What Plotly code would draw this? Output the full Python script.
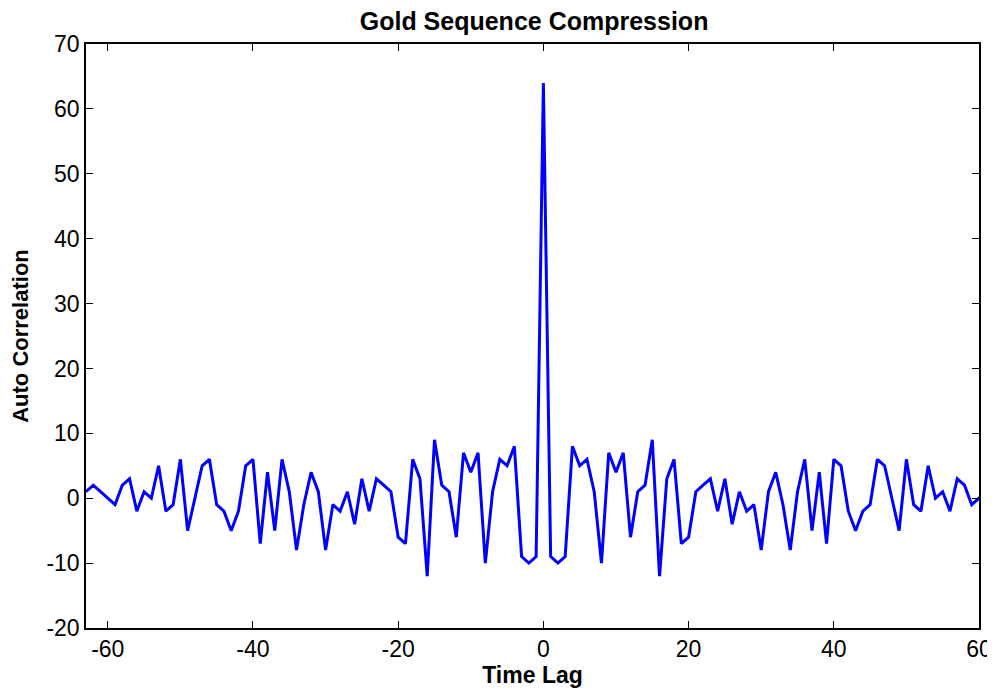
import plotly.graph_objects as go

# Time lags shown
lags = list(range(-63, 64))

# Autocorrelation values, lag -63 ... 63
auto_corr = [
    1, 2, 1, 0, -1, 2, 3, -2, 1, 0, 5, -2, -1, 6, -5, 0,
    5, 6, -1, -2, -5, -2, 5, 6, -7, 4, -5, 6, 1, -8, -1, 4,
    1, -8, -1, -2, 1, -4, 3, -2, 3, 2, 1, -6, -7, 6, 3, -12,
    9, 2, 1, -6, 7, 4, 7, -10, 1, 6, 5, 8, -9, -10, -9,
    64,
    -9, -10, -9, 8, 5, 6, 1, -10, 7, 4, 7, -6, 1, 2, 9, -12,
    3, 6, -7, -6, 1, 2, 3, -2, 3, -4, 1, -2, -1, -8, 1, 4,
    -1, -8, 1, 6, -5, 4, -7, 6, 5, -2, -5, -2, -1, 6, 5, 0,
    -5, 6, -1, -2, 5, 0, 1, -2, 3, 2, -1, 0, 1, 2, 1,
]

x_ticks = [-60, -40, -20, 0, 20, 40, 60]
y_ticks = [-20, -10, 0, 10, 20, 30, 40, 50, 60, 70]

fig = go.Figure()
fig.add_trace(go.Scatter(
    x=lags, y=auto_corr, mode="lines",
    line=dict(color="#0000FF", width=3),
    showlegend=False, hoverinfo="skip",
))

font_family = "Liberation Sans, Arial, sans-serif"
axis_common = dict(
    showgrid=False, zeroline=False, automargin=False,
    showline=True, linecolor="black", linewidth=1.5, mirror="ticks",
    ticks="inside", ticklen=7, tickcolor="black", tickwidth=1.2,
    tickfont=dict(family=font_family, size=23, color="black"),
)

# the page body adds an 8px offset, so the figure is 8px smaller
fig.update_layout(
    width=987, height=680,
    margin=dict(l=78, r=16, t=36, b=60),
    paper_bgcolor="white", plot_bgcolor="white",
    title=dict(text="<b>Gold Sequence Compression</b>", x=0.533, xanchor="center",
               y=0.980, yanchor="middle",
               font=dict(family=font_family, size=25, color="black")),
    xaxis=dict(range=[-63, 60], tickvals=x_ticks, ticktext=[str(v) for v in x_ticks],
               title=dict(text="<b>Time Lag</b>", standoff=4,
                          font=dict(family=font_family, size=23, color="black")),
               **axis_common),
    yaxis=dict(range=[-20, 70], tickvals=y_ticks, ticktext=[str(v) for v in y_ticks],
               title=dict(text="<b>Auto Correlation</b>", standoff=12,
                          font=dict(family=font_family, size=22, color="black")),
               **axis_common),
)

fig.write_html("out.html")
